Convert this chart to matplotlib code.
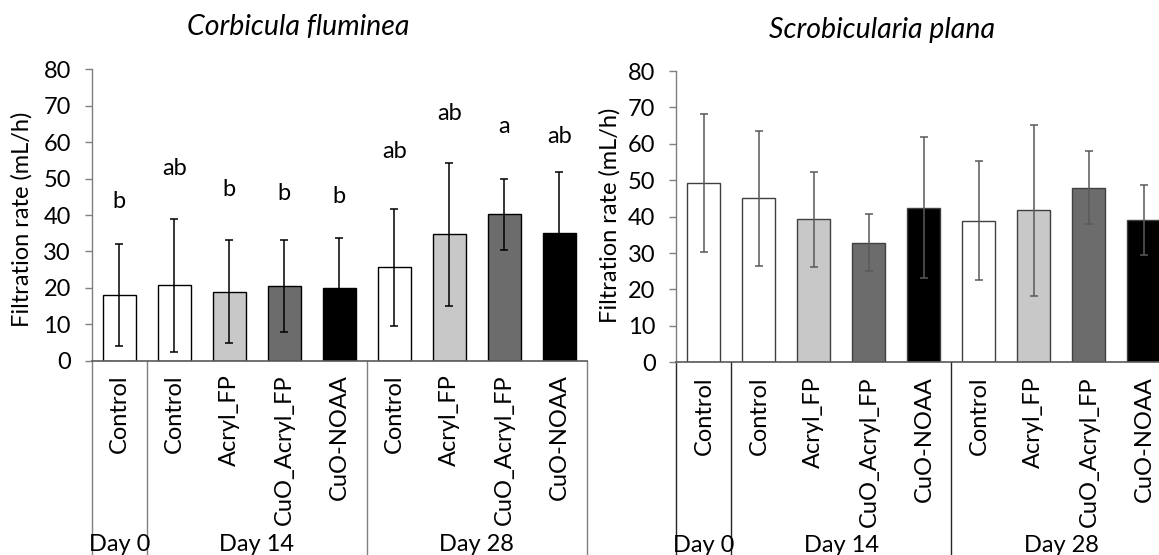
import matplotlib
matplotlib.use("Agg")
import matplotlib.pyplot as plt
import matplotlib.transforms as mtransforms

# ---------------- data ----------------
categories = ["Control", "Control", "Acryl_FP", "CuO_Acryl_FP", "CuO-NOAA",
              "Control", "Acryl_FP", "CuO_Acryl_FP", "CuO-NOAA"]
groups = ["Day 0", "Day 14", "Day 28"]
group_sizes = [1, 4, 4]

cf_title = "Corbicula fluminea"
cf_mean = [18.0, 20.7, 18.9, 20.4, 19.9, 25.6, 34.7, 40.2, 35.1]
cf_err = [14.0, 18.3, 14.1, 12.6, 13.8, 16.0, 19.6, 9.8, 16.7]
cf_letters = ["b", "ab", "b", "b", "b", "ab", "ab", "a", "ab"]
cf_letter_y = [43.7, 52.8, 46.9, 46.0, 45.0, 57.4, 67.9, 64.3, 61.5]

sp_title = "Scrobicularia plana"
sp_mean = [49.3, 45.0, 39.3, 32.9, 42.5, 38.9, 41.8, 47.9, 39.1]
sp_err = [18.9, 18.5, 13.0, 7.7, 19.3, 16.3, 23.5, 10.0, 9.6]

bar_colors = ["white", "white", "#C8C8C8", "#6C6C6C", "black",
              "white", "#C8C8C8", "#6C6C6C", "black"]

y_ticks = [0, 10, 20, 30, 40, 50, 60, 70, 80]
y_label = "Filtration rate (mL/h)"

# ---------------- style ----------------
FONT = "Lato"
plt.rcParams["font.family"] = [FONT, "DejaVu Sans"]
FS = 17

W, H = 1159, 555
fig = plt.figure(figsize=(W / 100, H / 100), dpi=100)


def px_axes(x0, ytop, x1, ybot):
    return fig.add_axes([x0 / W, 1 - ybot / H, (x1 - x0) / W, (ybot - ytop) / H])


def draw_panel(ax, means, errs, edge, errcol, sepcol, letters=None, letter_y=None):
    n = len(means)
    xs = list(range(n))
    ax.bar(xs, means, width=0.6, color=bar_colors, edgecolor=edge, linewidth=1.0, zorder=2)
    ax.errorbar(xs, means, yerr=errs, fmt="none", ecolor=errcol, elinewidth=1.1,
                capsize=3.0, capthick=1.1, zorder=3)
    ax.set_xlim(-0.5, n - 0.5)
    ax.set_ylim(0, 80)
    ax.set_yticks(y_ticks)
    ax.tick_params(axis="y", direction="out", length=5, width=1, color="#7f7f7f",
                   labelsize=FS, pad=10)
    ax.set_xticks(xs)
    ax.set_xticklabels(categories, rotation=90, fontsize=FS, va="top", ha="center")
    ax.tick_params(axis="x", length=0, pad=10)
    for s in ["top", "right"]:
        ax.spines[s].set_visible(False)
    ax.spines["left"].set_color("#7f7f7f")
    ax.spines["bottom"].set_color("#595959")
    ax.spines["left"].set_linewidth(1.0)
    ax.spines["bottom"].set_linewidth(1.2)
    ax.set_ylabel(y_label, fontsize=FS)

    trans = mtransforms.blended_transform_factory(ax.transData, ax.transAxes)
    # group separators below the axis
    b = -0.5
    bounds = [b]
    for g in group_sizes:
        b += g
        bounds.append(b)
    for xb in bounds:
        ax.plot([xb, xb], [0, -0.9], transform=trans, color=sepcol, lw=1.0,
                clip_on=False, zorder=1)
    # group labels
    start = -0.5
    for g, size in zip(groups, group_sizes):
        ax.text(start + size / 2, -0.63, g, transform=trans, ha="center", va="center",
                fontsize=FS, clip_on=False)
        start += size
    if letters is not None:
        for x, l, yy in zip(xs, letters, letter_y):
            ax.text(x, yy, l, ha="center", va="center", fontsize=FS)


# left panel
ax1 = px_axes(91.7, 69.3, 586.7, 360.7)
draw_panel(ax1, cf_mean, cf_err, "black", "black", "#7f7f7f", cf_letters, cf_letter_y)
ax1.yaxis.set_label_coords(-0.12, 0.486)

# right panel (cut off at the figure edge, as in the reference)
ax2 = px_axes(676.4, 71.0, 676.4 + 495.0, 362.3)
draw_panel(ax2, sp_mean, sp_err, "#404040", "#595959", "#262626")
ax2.yaxis.set_label_coords(-0.113, 0.506)

fig.text(298 / W, 1 - 27 / H, cf_title, ha="center", va="center", fontsize=20.5, style="italic")
fig.text(882 / W, 1 - 30 / H, sp_title, ha="center", va="center", fontsize=20.5, style="italic")

fig.savefig("out.png", dpi=100, facecolor="white")
